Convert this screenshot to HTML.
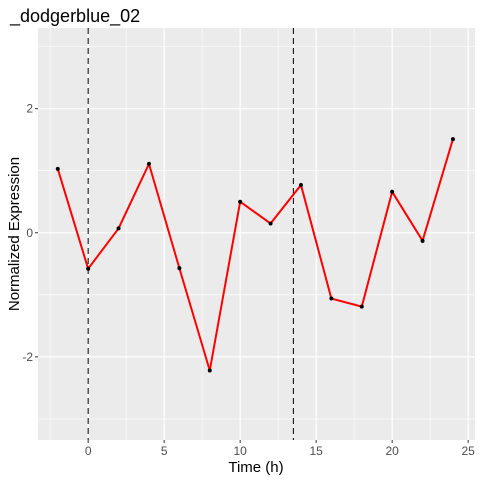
<!DOCTYPE html>
<html><head><meta charset="utf-8"><style>
body{margin:0;background:#fff;font-family:"Liberation Sans",sans-serif;}
svg{display:block}
</style></head><body>
<svg id="chart" width="480" height="480">
<rect x="0" y="0" width="480" height="480" fill="#fff"/>
<g id="panel"></g>
<text x="10" y="22" font-size="18" fill="#000">_dodgerblue_02</text>
<text x="256" y="472" font-size="15" text-anchor="middle" fill="#000">Time (h)</text>
<text transform="translate(19,234) rotate(-90)" font-size="15" text-anchor="middle" fill="#000">Normalized Expression</text>
</svg>
<script>
const times=[-2,0,2,4,6,8,10,12,14,16,18,20,22,24];
const values=[1.03,-0.58,0.07,1.11,-0.57,-2.22,0.5,0.15,0.77,-1.06,-1.19,0.66,-0.13,1.51];
const xTicks=[0,5,10,15,20,25];
const yTicks=[-2,0,2];
const vlines=[0,13.5];
const L=38,R=475,T=28,B=440;
const xMin=-3.3,xMax=25.45,yMin=-3.34,yMax=3.3;
const xs=t=>L+(t-xMin)/(xMax-xMin)*(R-L);
const ys=v=>B-(v-yMin)/(yMax-yMin)*(B-T);
const NS="http://www.w3.org/2000/svg";
const panel=document.getElementById('panel');
const svg=document.getElementById('chart');
function mk(tag,attrs,parent){const e=document.createElementNS(NS,tag);for(const k in attrs)e.setAttribute(k,attrs[k]);(parent||panel).appendChild(e);return e;}
const bg=mk('rect',{x:L,y:T,width:R-L,height:B-T,fill:'#EBEBEB'});


// minor grid
for(let i=0;i<xTicks.length-1;i++){const m=(xTicks[i]+xTicks[i+1])/2;const g=mk('line',{x1:xs(m),x2:xs(m),y1:T,y2:B,stroke:'#fff','stroke-width':0.6});

}
{const m=xTicks[0]-2.5;const g=mk('line',{x1:xs(m),x2:xs(m),y1:T,y2:B,stroke:'#fff','stroke-width':0.6});

}
for(const m of [-3,-1,1,3]){const g=mk('line',{x1:L,x2:R,y1:ys(m),y2:ys(m),stroke:'#fff','stroke-width':0.6});

}
// major grid + ticks
for(const t of xTicks){const g=mk('line',{x1:xs(t),x2:xs(t),y1:T,y2:B,stroke:'#fff','stroke-width':1.2});


const tk=mk('line',{x1:xs(t),x2:xs(t),y1:B,y2:B+3,stroke:'#333','stroke-width':1},svg);


const tl=mk('text',{x:xs(t),y:B+15,'font-size':12,'text-anchor':'middle',fill:'#4D4D4D'},svg);tl.textContent=t;

}
for(const v of yTicks){const g=mk('line',{x1:L,x2:R,y1:ys(v),y2:ys(v),stroke:'#fff','stroke-width':1.2});


const tk=mk('line',{x1:L-3,x2:L,y1:ys(v),y2:ys(v),stroke:'#333','stroke-width':1},svg);


const tl=mk('text',{x:L-5,y:ys(v)+4,'font-size':12,'text-anchor':'end',fill:'#4D4D4D'},svg);tl.textContent=v;

}
// vlines
for(const v of vlines){const l=mk('line',{x1:xs(v),x2:xs(v),y1:T,y2:B,stroke:'#000','stroke-width':1,'stroke-dasharray':'6,4'});

}
// line
const pts=times.map((t,i)=>xs(t)+','+ys(values[i])).join(' ');
const pl=mk('polyline',{points:pts,fill:'none',stroke:'#FF0000','stroke-width':2});


times.forEach((t,i)=>{const c=mk('circle',{cx:xs(t),cy:ys(values[i]),r:2,fill:'#000'});

});
</script>
</body></html>
